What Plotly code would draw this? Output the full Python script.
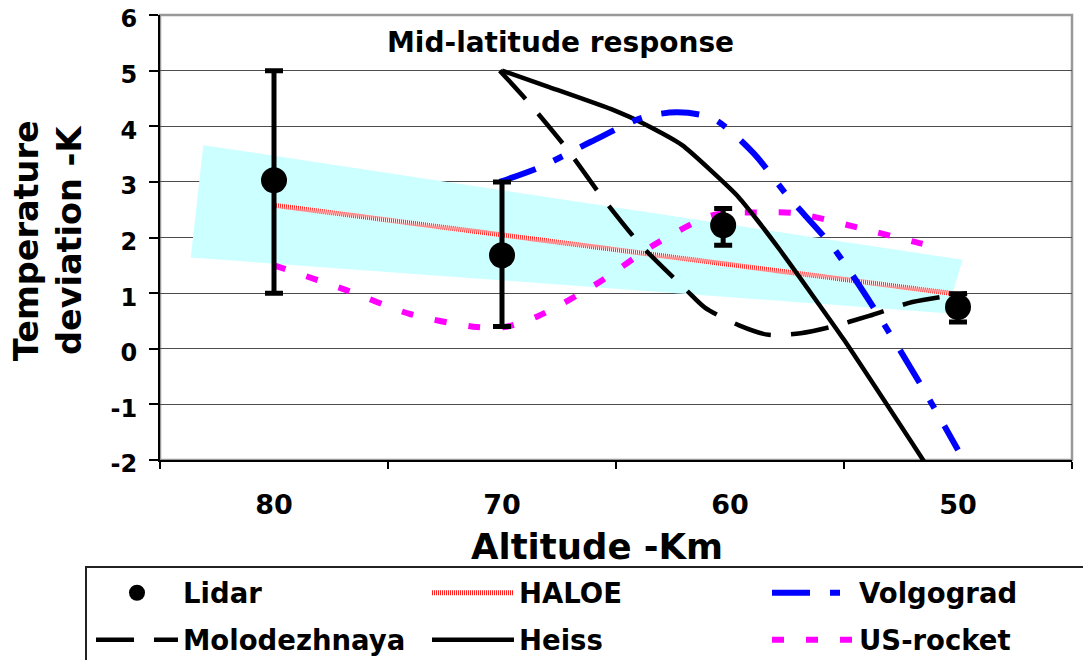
import plotly.graph_objects as go

# ---------------- data ----------------
lidar_alt = [80, 70, 60.3, 50]
lidar_val = [3.03, 1.68, 2.22, 0.75]
lidar_err_plus = [1.97, 1.32, 0.30, 0.24]
lidar_err_minus = [2.03, 1.28, 0.36, 0.27]

haloe_alt = [80, 50]
haloe_val = [2.58, 0.98]

band_alt = [83.1, 49.8, 50.5, 83.65]
band_val = [3.66, 1.60, 0.64, 1.64]

molo_alt = [70.1, 68.9, 67.2, 65.6, 63.9, 61.9, 61.1, 59.6, 58.3, 56.9, 55.6, 53.9, 52.0, 49.6]
molo_val = [5.0, 4.46, 3.62, 2.72, 1.86, 1.05, 0.74, 0.42, 0.25, 0.28, 0.39, 0.59, 0.84, 1.0]

heiss_alt = [70.0, 67.9, 65.1, 63.8, 62.1, 59.7, 58.8, 57.8, 55.0, 51.1]
heiss_val = [5.0, 4.70, 4.29, 4.05, 3.66, 2.76, 2.31, 1.77, 0.16, -2.27]

volg_alt = [70.1, 68.3, 66.1, 63.8, 62.3, 60.75, 59.0, 57.5, 55.5, 53.7, 51.5, 50.0]
volg_val = [3.0, 3.27, 3.72, 4.16, 4.25, 4.14, 3.53, 2.76, 1.83, 0.74, -0.74, -1.82]

rocket_alt = [80, 76.8, 74.0, 71.1, 69.9, 68.4, 65.8, 63.2, 60.75, 58.7, 57.2, 54.4, 51.7, 50.8]
rocket_val = [1.50, 1.05, 0.62, 0.39, 0.39, 0.59, 1.18, 1.90, 2.40, 2.45, 2.44, 2.18, 1.90, 1.83]

x_tick_vals = [80, 70, 60, 50]
x_tick_text = ["80", "70", "60", "50"]
x_minor_ticks = [85, 75, 65, 55, 45]
y_tick_vals = [-2, -1, 0, 1, 2, 3, 4, 5, 6]
y_tick_text = ["-2", "-1", "0", "1", "2", "3", "4", "5", "6"]

FONT = "DejaVu Sans"
OFF = 8  # page body margin offset
W, H = 1091 - OFF, 660 - OFF
# target plot area in screen pixels: x 160..1072, y 14.5..460
ML = 160 - OFF
MT = 14.5 - OFF
MR = W - (1072 - OFF)
MB = H - (460 - OFF)
PW = W - ML - MR
PH = H - MT - MB


def px_to_paper_x(px):
    return (px - OFF - ML) / PW


def px_to_paper_y(py):
    return (H - MB - (py - OFF)) / PH


fig = go.Figure()

# band
fig.add_trace(go.Scatter(x=band_alt, y=band_val, fill="toself", mode="lines",
                         line=dict(width=0), fillcolor="#CCFFFF",
                         showlegend=False, hoverinfo="skip"))
# HALOE underlay
fig.add_trace(go.Scatter(x=haloe_alt, y=haloe_val, mode="lines",
                         line=dict(color="white", width=5),
                         showlegend=False, hoverinfo="skip"))
fig.add_trace(go.Scatter(x=haloe_alt, y=haloe_val, mode="lines", name="HALOE",
                         line=dict(color="#FF2020", width=5, dash="1px,1px"),
                         legend="legend2"))
fig.add_trace(go.Scatter(x=rocket_alt, y=rocket_val, mode="lines", name="US-rocket",
                         line=dict(color="#FF00FF", width=6, dash="12px,22px", shape="spline", smoothing=0.8),
                         legend="legend6"))
fig.add_trace(go.Scatter(x=molo_alt, y=molo_val, mode="lines", name="Molodezhnaya",
                         line=dict(color="black", width=4.5, dash="38px,20px", shape="spline", smoothing=0.7),
                         legend="legend4"))
fig.add_trace(go.Scatter(x=heiss_alt, y=heiss_val, mode="lines", name="Heiss",
                         line=dict(color="black", width=4.5, shape="spline", smoothing=0.5),
                         legend="legend5"))
fig.add_trace(go.Scatter(x=volg_alt, y=volg_val, mode="lines", name="Volgograd",
                         line=dict(color="#0000FF", width=6, dash="38px,20px,10px,20px", shape="spline", smoothing=0.8),
                         legend="legend3"))
fig.add_trace(go.Scatter(x=lidar_alt, y=lidar_val, mode="markers", name="Lidar",
                         marker=dict(color="black", size=26, symbol="circle"),
                         error_y=dict(type="data", symmetric=False, array=lidar_err_plus,
                                      arrayminus=lidar_err_minus, color="black",
                                      thickness=5, width=9),
                         legend="legend"))

# plot border (top / right gray)
fig.add_shape(type="rect", xref="paper", yref="paper", x0=0, x1=1, y0=0, y1=1,
              line=dict(color="#999999", width=2.5), layer="below")

# legend box
fig.add_shape(type="rect", xref="paper", yref="paper",
              x0=px_to_paper_x(86), x1=px_to_paper_x(1100),
              y0=px_to_paper_y(670), y1=px_to_paper_y(567),
              line=dict(color="#222222", width=2))

# title annotation
fig.add_annotation(text="Mid-latitude response", xref="paper", yref="paper",
                   x=px_to_paper_x(560), y=px_to_paper_y(42), xanchor="center", yanchor="middle",
                   showarrow=False, font=dict(family=FONT, size=28, color="black", weight="bold"))
# axis titles
fig.add_annotation(text="Altitude -Km", xref="paper", yref="paper",
                   x=px_to_paper_x(597), y=px_to_paper_y(547), xanchor="center", yanchor="middle",
                   showarrow=False, font=dict(family=FONT, size=35.5, color="black", weight="bold"))
fig.add_annotation(text="Temperature<br>deviation -K", xref="paper", yref="paper",
                   x=px_to_paper_x(48), y=px_to_paper_y(241), xanchor="center", yanchor="middle",
                   textangle=-90, showarrow=False,
                   font=dict(family=FONT, size=33.5, color="black", weight="bold"))

legend_common = dict(orientation="h", font=dict(family=FONT, size=27.5, color="black", weight="bold"),
                     itemwidth=82, bgcolor="rgba(0,0,0,0)", borderwidth=0,
                     xanchor="left", yanchor="middle", itemclick=False, itemdoubleclick=False)

col_px = [91, 427, 767]
row_px = [593, 640]
legend_layout = {}
names = ["legend", "legend2", "legend3", "legend4", "legend5", "legend6"]
for i, nm in enumerate(names):
    r, c = divmod(i, 3)
    legend_layout[nm] = dict(x=px_to_paper_x(col_px[c]), y=px_to_paper_y(row_px[r]), **legend_common)

fig.update_layout(
    width=W, height=H,
    margin=dict(l=ML, r=MR, t=MT, b=MB, pad=0, autoexpand=False),
    paper_bgcolor="white", plot_bgcolor="white",
    showlegend=True,
    xaxis=dict(range=[85, 45], tickmode="array", tickvals=x_tick_vals, ticktext=x_tick_text,
               ticks="", showgrid=False, zeroline=False, automargin=False,
               showline=True, linecolor="black", linewidth=2,
               tickfont=dict(family=FONT, size=27, color="black", weight="bold"),
               ticklabelstandoff=20,
               minor=dict(tickmode="array", tickvals=x_minor_ticks, ticks="outside",
                          ticklen=7, tickcolor="black", tickwidth=1.5, showgrid=False)),
    yaxis=dict(range=[-2, 6], tickmode="array", tickvals=y_tick_vals, ticktext=y_tick_text,
               ticks="outside", ticklen=9, tickcolor="black", tickwidth=1.5,
               showgrid=True, gridcolor="#4d4d4d", gridwidth=1, zeroline=False, automargin=False,
               showline=True, linecolor="black", linewidth=2,
               tickfont=dict(family=FONT, size=24, color="black", weight="bold"),
               ticklabelstandoff=7, ticklabelshift=4, ticklabeloverflow="allow"),
    **legend_layout,
)

fig.write_html("out.html")
